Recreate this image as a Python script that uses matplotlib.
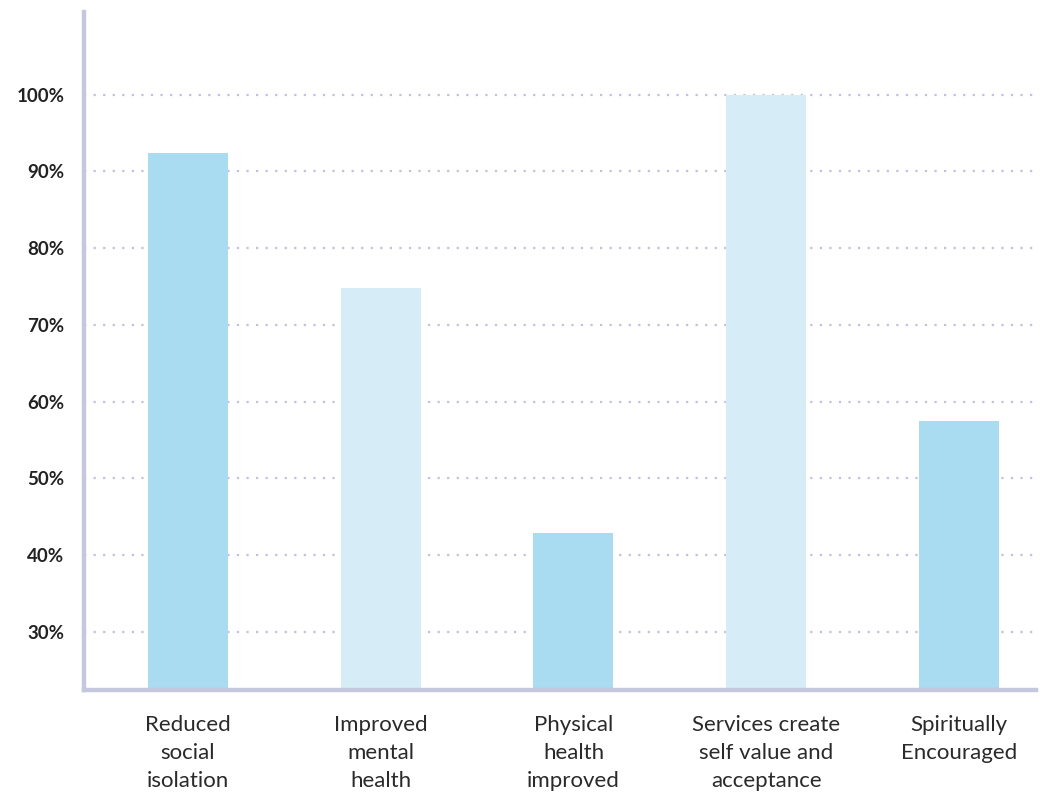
import matplotlib
matplotlib.use('Agg')
import matplotlib.pyplot as plt
import numpy as np

# data
categories = [
    'Reduced\nsocial\nisolation',
    'Improved\nmental\nhealth',
    'Physical\nhealth\nimproved',
    'Services create\nself value and\nacceptance',
    'Spiritually\nEncouraged',
]
values = [92.4, 74.8, 42.9, 100.0, 57.5]
yticks = [30, 40, 50, 60, 70, 80, 90, 100]

dark_blue = '#A9DCF0'
light_blue = '#D6ECF7'
bar_colors = [dark_blue, light_blue, dark_blue, light_blue, dark_blue]
axis_col = '#C5C7DF'
grid_col = '#C2C0DC'

plt.rcParams['font.family'] = ['Lato', 'DejaVu Sans']

fig = plt.figure(figsize=(10.55, 7.95), dpi=100)
ax = fig.add_axes([0.0796, 0.132, 0.9024, 0.853])

x = np.arange(len(categories))
ax.bar(x, values, width=0.415, color=bar_colors, zorder=2)

ax.set_xlim(-0.54, 4.40)
ax.set_ylim(22.4, 110.8)

ax.set_yticks(yticks)
ax.set_yticklabels([f'{v}%' for v in yticks], fontsize=13.5, fontweight='bold', color='#222222')
ax.set_xticks(x)
ax.set_xticklabels(categories, fontsize=16, color='#2a2a2a', linespacing=1.5)
ax.tick_params(axis='y', length=0, pad=14)
ax.tick_params(axis='x', length=0, pad=18)

ax.yaxis.grid(True, color=grid_col, linestyle=(0, (1, 3.3)), linewidth=1.6, zorder=1)
ax.set_axisbelow(True)

for s in ['top', 'right']:
    ax.spines[s].set_visible(False)
for s in ['left', 'bottom']:
    ax.spines[s].set_color(axis_col)
    ax.spines[s].set_linewidth(3.2)

fig.savefig('out.png', dpi=100)
